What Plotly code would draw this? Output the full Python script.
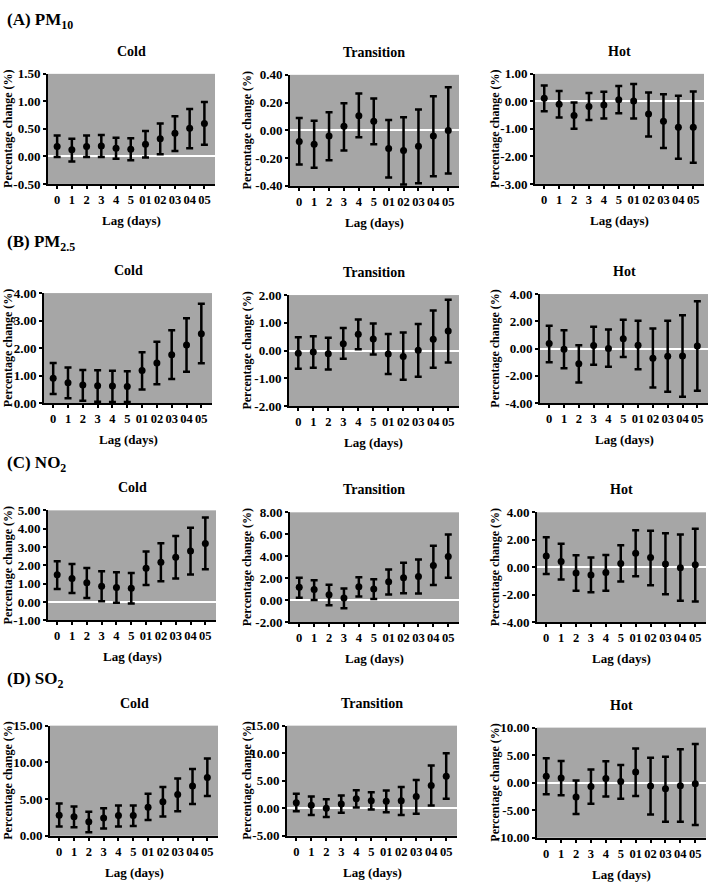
import plotly.graph_objects as go

W, H = 709, 888
FONT = "'Liberation Serif', 'Times New Roman', 'DejaVu Serif', serif"

LAGS = ["0", "1", "2", "3", "4", "5", "01", "02", "03", "04", "05"]
SEASONS = ["Cold", "Transition", "Hot"]
SECTION_TITLES = ["(A) PM<sub>10</sub>", "(B) PM<sub>2.5</sub>", "(C) NO<sub>2</sub>", "(D) SO<sub>2</sub>"]
X_TITLE = "Lag (days)"
Y_TITLE = "Percentage change (%)"

# ---------------- PM10 ----------------
PM10_COLD_EST = [0.18, 0.12, 0.18, 0.19, 0.15, 0.13, 0.22, 0.32, 0.42, 0.51, 0.60]
PM10_COLD_LO = [-0.01, -0.09, -0.01, -0.01, -0.04, -0.07, -0.02, 0.04, 0.10, 0.15, 0.21]
PM10_COLD_HI = [0.38, 0.32, 0.38, 0.39, 0.34, 0.33, 0.46, 0.60, 0.73, 0.86, 0.99]
PM10_COLD_TICKS = [-0.5, 0.0, 0.5, 1.0, 1.5]

PM10_TRANS_EST = [-0.08, -0.10, -0.04, 0.03, 0.105, 0.065, -0.13, -0.145, -0.115, -0.04, 0.00]
PM10_TRANS_LO = [-0.245, -0.27, -0.215, -0.145, -0.05, -0.10, -0.34, -0.39, -0.38, -0.33, -0.31]
PM10_TRANS_HI = [0.09, 0.07, 0.13, 0.195, 0.265, 0.23, 0.075, 0.095, 0.15, 0.245, 0.31]
PM10_TRANS_TICKS = [-0.4, -0.2, 0.0, 0.2, 0.4]

PM10_HOT_EST = [0.11, -0.10, -0.51, -0.19, -0.13, 0.06, 0.01, -0.46, -0.72, -0.94, -0.94]
PM10_HOT_LO = [-0.36, -0.59, -0.99, -0.68, -0.62, -0.43, -0.62, -1.28, -1.69, -2.08, -2.23]
PM10_HOT_HI = [0.58, 0.38, -0.04, 0.30, 0.35, 0.56, 0.63, 0.32, 0.26, 0.20, 0.36]
PM10_HOT_TICKS = [-3.0, -2.0, -1.0, 0.0, 1.0]

# ---------------- PM2.5 ----------------
PM25_COLD_EST = [0.91, 0.74, 0.66, 0.63, 0.62, 0.61, 1.19, 1.46, 1.76, 2.11, 2.52]
PM25_COLD_LO = [0.33, 0.18, 0.09, 0.05, 0.04, 0.04, 0.50, 0.69, 0.88, 1.14, 1.45]
PM25_COLD_HI = [1.46, 1.30, 1.21, 1.20, 1.18, 1.16, 1.85, 2.23, 2.65, 3.09, 3.61]
PM25_COLD_TICKS = [0.0, 1.0, 2.0, 3.0, 4.0]

PM25_TRANS_EST = [-0.10, -0.05, -0.11, 0.25, 0.59, 0.42, -0.12, -0.21, 0.01, 0.41, 0.71]
PM25_TRANS_LO = [-0.65, -0.62, -0.68, -0.29, 0.05, -0.14, -0.84, -1.05, -0.94, -0.62, -0.43]
PM25_TRANS_HI = [0.48, 0.52, 0.46, 0.81, 1.12, 0.98, 0.60, 0.65, 0.96, 1.44, 1.83]
PM25_TRANS_TICKS = [-2.0, -1.0, 0.0, 1.0, 2.0]

PM25_HOT_EST = [0.37, -0.04, -1.11, 0.23, 0.01, 0.73, 0.25, -0.70, -0.56, -0.54, 0.20]
PM25_HOT_LO = [-0.99, -1.44, -2.49, -1.18, -1.32, -0.61, -1.52, -2.85, -3.16, -3.52, -3.09]
PM25_HOT_HI = [1.68, 1.35, 0.25, 1.61, 1.40, 2.11, 2.04, 1.47, 2.04, 2.45, 3.47]
PM25_HOT_TICKS = [-4.0, -2.0, 0.0, 2.0, 4.0]

# ---------------- NO2 ----------------
NO2_COLD_EST = [1.49, 1.29, 1.06, 0.86, 0.79, 0.75, 1.84, 2.17, 2.44, 2.78, 3.19]
NO2_COLD_LO = [0.72, 0.50, 0.23, 0.05, -0.04, -0.07, 0.93, 1.13, 1.29, 1.50, 1.79]
NO2_COLD_HI = [2.22, 2.08, 1.86, 1.68, 1.63, 1.58, 2.76, 3.21, 3.60, 4.05, 4.61]
NO2_COLD_TICKS = [-1.0, 0.0, 1.0, 2.0, 3.0, 4.0, 5.0]

NO2_TRANS_EST = [1.19, 0.98, 0.51, 0.21, 1.25, 1.04, 1.70, 2.05, 2.17, 3.18, 3.99]
NO2_TRANS_LO = [0.24, 0.03, -0.45, -0.71, 0.36, 0.12, 0.54, 0.65, 0.62, 1.40, 2.05]
NO2_TRANS_HI = [2.05, 1.82, 1.43, 1.07, 2.11, 1.93, 2.80, 3.42, 3.72, 4.96, 5.98]
NO2_TRANS_TICKS = [-2.0, 0.0, 2.0, 4.0, 6.0, 8.0]

NO2_HOT_EST = [0.83, 0.43, -0.40, -0.55, -0.38, 0.29, 1.02, 0.71, 0.24, -0.02, 0.19]
NO2_HOT_LO = [-0.48, -0.88, -1.69, -1.81, -1.69, -1.02, -0.64, -1.29, -1.95, -2.43, -2.48]
NO2_HOT_HI = [2.19, 1.71, 0.88, 0.71, 0.90, 1.60, 2.69, 2.67, 2.48, 2.38, 2.81]
NO2_HOT_TICKS = [-4.0, -2.0, 0.0, 2.0, 4.0]

# ---------------- SO2 ----------------
SO2_COLD_EST = [2.81, 2.59, 1.92, 2.41, 2.77, 2.77, 3.88, 4.64, 5.63, 6.79, 7.95]
SO2_COLD_LO = [1.25, 1.16, 0.49, 0.98, 1.25, 1.34, 2.14, 2.63, 3.35, 4.33, 5.40]
SO2_COLD_HI = [4.38, 3.97, 3.26, 3.75, 4.11, 4.11, 5.71, 6.65, 7.81, 9.11, 10.54]
SO2_COLD_TICKS = [0.0, 5.0, 10.0, 15.0]

SO2_TRANS_EST = [1.01, 0.54, 0.00, 0.77, 1.73, 1.37, 1.25, 1.37, 2.14, 4.11, 5.83]
SO2_TRANS_LO = [-0.54, -1.25, -1.61, -0.83, 0.12, -0.24, -0.71, -1.25, -1.01, 0.48, 1.73]
SO2_TRANS_HI = [2.62, 2.14, 1.61, 2.32, 3.27, 2.92, 3.21, 3.87, 5.12, 7.74, 10.00]
SO2_TRANS_TICKS = [-5.0, 0.0, 5.0, 10.0, 15.0]

SO2_HOT_EST = [1.16, 0.86, -2.58, -0.68, 0.74, 0.21, 1.93, -0.62, -1.10, -0.56, -0.21]
SO2_HOT_LO = [-2.11, -2.28, -5.67, -3.83, -2.52, -2.94, -2.40, -5.79, -7.12, -7.12, -7.69]
SO2_HOT_HI = [4.42, 3.95, 0.39, 2.40, 3.89, 3.23, 6.20, 4.54, 4.72, 6.08, 7.03]
SO2_HOT_TICKS = [-10.0, -5.0, 0.0, 5.0, 10.0]

PANEL_DATA = [
    [(PM10_COLD_EST, PM10_COLD_LO, PM10_COLD_HI, PM10_COLD_TICKS),
     (PM10_TRANS_EST, PM10_TRANS_LO, PM10_TRANS_HI, PM10_TRANS_TICKS),
     (PM10_HOT_EST, PM10_HOT_LO, PM10_HOT_HI, PM10_HOT_TICKS)],
    [(PM25_COLD_EST, PM25_COLD_LO, PM25_COLD_HI, PM25_COLD_TICKS),
     (PM25_TRANS_EST, PM25_TRANS_LO, PM25_TRANS_HI, PM25_TRANS_TICKS),
     (PM25_HOT_EST, PM25_HOT_LO, PM25_HOT_HI, PM25_HOT_TICKS)],
    [(NO2_COLD_EST, NO2_COLD_LO, NO2_COLD_HI, NO2_COLD_TICKS),
     (NO2_TRANS_EST, NO2_TRANS_LO, NO2_TRANS_HI, NO2_TRANS_TICKS),
     (NO2_HOT_EST, NO2_HOT_LO, NO2_HOT_HI, NO2_HOT_TICKS)],
    [(SO2_COLD_EST, SO2_COLD_LO, SO2_COLD_HI, SO2_COLD_TICKS),
     (SO2_TRANS_EST, SO2_TRANS_LO, SO2_TRANS_HI, SO2_TRANS_TICKS),
     (SO2_HOT_EST, SO2_HOT_LO, SO2_HOT_HI, SO2_HOT_TICKS)],
]

# ---------------- layout geometry (pixels) ----------------
X_PX = [
    [(48, 215), (290, 459), (535, 704)],
    [(44, 212), (289, 459), (540, 708)],
    [(48, 216), (290, 459), (537, 706)],
    [(50, 218), (287, 457), (537, 706)],
]
Y_PX = [
    [(68, 180), (69, 182), (68, 180)],
    [(291, 403), (293, 406), (292, 403)],
    [(512, 624), (514, 626), (514, 626)],
    [(731, 843), (731, 843), (733, 845)],
]
SECTION_Y = [14, 240, 465, 685]
YTITLE_X = [8, 247, 495]

BG = "#a6a6a6"


def px_x(v):
    return v / W


def px_y(v):
    return 1 - v / H


fig = go.Figure()
layout = {}
annotations = []

for r in range(4):
    annotations.append(dict(
        x=px_x(5), y=px_y(SECTION_Y[r]), xref="paper", yref="paper",
        text=SECTION_TITLES[r], showarrow=False, xanchor="left", yanchor="middle",
        font=dict(family=FONT, size=17, color="black", weight="bold")))
    for c in range(3):
        idx = r * 3 + c + 1
        sfx = "" if idx == 1 else str(idx)
        xname, yname = "x" + sfx, "y" + sfx
        est, lo, hi, ticks = PANEL_DATA[r][c]
        fig.add_trace(go.Scatter(
            x=LAGS, y=est, mode="markers",
            marker=dict(color="black", size=7),
            error_y=dict(type="data", symmetric=False,
                         array=[h - e for h, e in zip(hi, est)],
                         arrayminus=[e - l for e, l in zip(est, lo)],
                         color="black", thickness=2.5, width=3.5),
            xaxis=xname, yaxis=yname, showlegend=False, hoverinfo="x+y"))
        x0, x1 = X_PX[r][c]
        y0, y1 = Y_PX[r][c]
        layout["xaxis" + sfx] = dict(
            domain=[px_x(x0), px_x(x1)], anchor=yname, type="category",
            categoryorder="array", categoryarray=LAGS,
            tickmode="array", tickvals=LAGS, ticktext=LAGS, tickangle=0,
            range=[-0.62, 10.72], showline=True, linecolor="black", linewidth=2,
            ticks="outside", ticklen=3, tickwidth=1.5, tickcolor="black",
            showgrid=False, zeroline=False,
            tickfont=dict(family=FONT, size=12.5, color="black", weight="bold"))
        layout["yaxis" + sfx] = dict(
            domain=[px_y(y1), px_y(y0)], anchor=xname,
            range=[ticks[0], ticks[-1]], tickmode="array", tickvals=ticks,
            ticktext=["%.2f" % t for t in ticks],
            showline=True, linecolor="black", linewidth=2,
            ticks="outside", ticklen=3, tickwidth=1.5, tickcolor="black",
            showgrid=False, zeroline=True, zerolinecolor="white", zerolinewidth=1.5,
            tickfont=dict(family=FONT, size=13, color="black", weight="bold"))
        annotations.append(dict(
            x=px_x((x0 + x1) / 2), y=px_y(y0 - 23), xref="paper", yref="paper",
            text=SEASONS[c], showarrow=False, xanchor="center", yanchor="middle",
            font=dict(family=FONT, size=14, color="black", weight="bold")))
        annotations.append(dict(
            x=px_x((x0 + x1) / 2), y=px_y(y1 + 37), xref="paper", yref="paper",
            text=X_TITLE, showarrow=False, xanchor="center", yanchor="middle",
            font=dict(family=FONT, size=13, color="black", weight="bold")))
        annotations.append(dict(
            x=px_x(YTITLE_X[c]), y=px_y((y0 + y1) / 2), xref="paper", yref="paper",
            text=Y_TITLE, showarrow=False, textangle=-90,
            xanchor="center", yanchor="middle",
            font=dict(family=FONT, size=12, color="black", weight="bold")))

fig.update_layout(
    width=W, height=H, margin=dict(l=0, r=0, t=0, b=0),
    paper_bgcolor="white", plot_bgcolor=BG,
    annotations=annotations, **layout)

fig.write_html("out.html", config={"displayModeBar": False},
               post_script="document.body.style.margin='0';document.body.style.overflow='hidden';")
